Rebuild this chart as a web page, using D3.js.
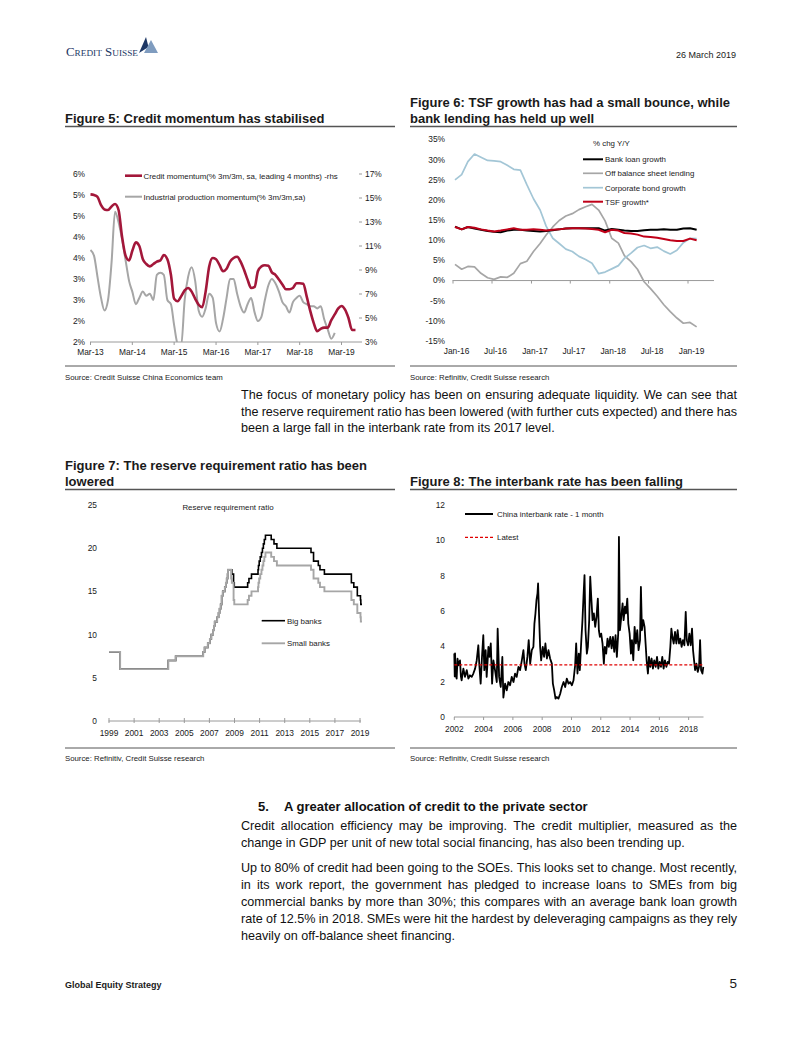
<!DOCTYPE html>
<html><head><meta charset="utf-8">
<script src="https://cdn.jsdelivr.net/npm/d3@7"></script>
<style>body{margin:0;background:#fff} svg{display:block}</style>
</head><body><svg id="page" width="802" height="1037"></svg>
<script>
// ---------------- DATA ----------------
// Figure 5 (monthly from Mar-2013)
const fig5Start = "2013-03-01";
const creditMomentum = [15.3,15.25,15.1,14.4,14.05,14.0,14.3,14.5,14.0,11.8,10.2,9.8,10.6,11.3,11.0,9.9,9.5,9.3,9.5,9.7,9.8,10.25,9.9,8.6,6.6,6.4,6.8,7.3,7.5,7.2,6.6,6.1,5.9,7.2,9.3,10.0,9.9,9.4,8.9,9.1,9.7,10.0,10.1,9.7,9.0,8.2,7.5,7.6,8.9,9.3,9.4,9.35,8.8,8.6,8.2,7.8,7.4,7.4,7.5,7.9,7.9,7.85,6.8,5.6,4.6,3.9,4.1,4.2,4.2,4.8,5.3,5.8,6.0,5.7,5.0,4.0,4.0];
const ipMomentum = [4.19,4.05,3.55,3.05,2.75,3.0,3.9,5.1,4.85,4.45,3.95,3.45,3.2,2.9,3.05,3.2,3.1,3.15,3.0,3.6,3.65,3.6,3.0,2.9,2.4,1.95,1.9,3.0,3.55,3.78,3.45,2.75,2.6,2.8,3.15,3.05,2.45,2.25,2.55,3.05,3.5,3.5,3.15,2.85,2.7,2.9,3.05,2.7,2.5,2.6,3.0,3.35,3.5,3.4,3.2,2.95,2.85,2.7,2.95,3.05,3.1,2.95,2.9,2.85,2.85,2.8,2.85,2.54,2.3,2.08,2.22];
const fig5XLabels = ["Mar-13","Mar-14","Mar-15","Mar-16","Mar-17","Mar-18","Mar-19"];
const fig5LeftTicks = [6,5.5,5,4.5,4,3.5,3,2.5,2];
const fig5LeftLabels = ["6%","5%","5%","4%","4%","3%","3%","2%","2%"];
const fig5RightTicks = [17,15,13,11,9,7,5,3];

// Figure 6 (monthly from Jan-2016, % chg Y/Y)
const fig6Start = "2016-01-01";
const bankLoanGrowth = [13.4,12.7,13.3,12.9,12.6,12.3,12.1,12.0,12.4,12.6,12.6,12.4,12.3,12.2,12.3,12.5,12.7,12.9,13.0,13.0,13.0,13.0,13.0,12.4,12.8,12.6,12.4,12.3,12.3,12.5,12.6,12.6,12.7,12.6,12.6,12.9,13.0,12.6];
const offBalanceLending = [4.0,2.8,3.5,3.4,1.8,0.7,0.3,0.9,0.8,1.8,4.2,4.8,7.2,9.2,11.3,13.3,14.9,16.0,16.6,17.6,18.3,18.9,17.5,14.8,10.5,9.3,6.2,4.7,2.8,-0.3,-2.0,-3.9,-6.0,-7.7,-9.3,-10.6,-10.4,-11.5];
const corpBondGrowth = [25.0,26.3,29.5,31.4,30.6,29.8,29.7,29.5,28.6,27.6,27.4,23.8,20.3,17.5,13.5,10.5,9.2,7.8,7.2,6.0,5.2,4.3,1.7,2.1,2.9,3.7,5.5,6.8,8.2,8.7,8.0,8.3,7.3,6.6,7.5,9.4,10.5,10.4];
const tsfGrowth = [13.3,12.7,13.3,13.1,12.7,12.4,12.2,12.4,12.7,13.0,12.6,12.6,12.7,12.6,12.4,12.6,12.7,12.9,13.0,13.0,12.9,12.8,12.6,12.0,12.6,12.4,11.8,11.7,11.4,10.9,10.8,10.6,10.3,10.0,9.8,9.8,10.4,10.0];
const fig6XLabels = ["Jan-16","Jul-16","Jan-17","Jul-17","Jan-18","Jul-18","Jan-19"];
const fig6YTicks = [35,30,25,20,15,10,5,0,-5,-10,-15];

// Figure 7 (reserve requirement ratio, step changes)
const rrrBigBanks = [["1999-01-01",8],["1999-11-21",6],["2003-09-21",7],["2004-04-25",7.5],["2006-07-05",8],["2006-08-15",8.5],["2006-11-15",9],["2007-01-15",9.5],["2007-02-25",10],["2007-04-16",10.5],["2007-05-15",11],["2007-06-05",11.5],["2007-08-15",12],["2007-09-25",12.5],["2007-10-25",13],["2007-11-26",13.5],["2007-12-25",14.5],["2008-01-25",15],["2008-03-25",15.5],["2008-04-25",16],["2008-05-20",16.5],["2008-06-15",17],["2008-06-25",17.5],["2008-10-15",17],["2008-12-05",16],["2008-12-25",15.5],["2010-01-18",16],["2010-02-25",16.5],["2010-05-10",17],["2010-11-16",17.5],["2010-11-29",18],["2010-12-20",18.5],["2011-01-20",19],["2011-02-24",19.5],["2011-03-25",20],["2011-04-21",20.5],["2011-05-18",21],["2011-06-20",21.5],["2011-12-05",21],["2012-02-24",20.5],["2012-05-18",20],["2015-02-05",19.5],["2015-04-20",18.5],["2015-09-06",18],["2015-10-24",17.5],["2016-03-01",17],["2018-04-25",16],["2018-07-05",15.5],["2018-10-15",14.5],["2019-01-15",14],["2019-01-25",13.5],["2019-02-28",13.5]];
const rrrSmallBanks = [["1999-01-01",8],["1999-11-21",6],["2003-09-21",7],["2004-04-25",7.5],["2006-07-05",8],["2006-08-15",8.5],["2006-11-15",9],["2007-01-15",9.5],["2007-02-25",10],["2007-04-16",10.5],["2007-05-15",11],["2007-06-05",11.5],["2007-08-15",12],["2007-09-25",12.5],["2007-10-25",13],["2007-11-26",13.5],["2007-12-25",14.5],["2008-01-25",15],["2008-03-25",15.5],["2008-04-25",16],["2008-05-20",16.5],["2008-06-15",17],["2008-06-25",17.5],["2008-09-25",16.5],["2008-10-15",16],["2008-12-05",14],["2008-12-25",13.5],["2010-01-18",14],["2010-02-25",14.5],["2010-05-10",15],["2010-11-16",15.5],["2010-11-29",16],["2010-12-20",16.5],["2011-01-20",17],["2011-02-24",17.5],["2011-03-25",18],["2011-04-21",18.5],["2011-05-18",19],["2011-06-20",19.5],["2011-12-05",19],["2012-02-24",18.5],["2012-05-18",18],["2015-02-05",17.5],["2015-04-20",16.5],["2015-09-06",16],["2015-10-24",15.5],["2016-03-01",15],["2018-04-25",14],["2018-07-05",13.5],["2018-10-15",12.5],["2019-01-15",12],["2019-01-25",11.5],["2019-02-28",11.5]];
const fig7XLabels = [1999,2001,2003,2005,2007,2009,2011,2013,2015,2017,2019];
const fig7YTicks = [0,5,10,15,20,25];

// Figure 8 (China interbank rate - 1 month, [decimal year, %])
const interbankRate = [[2002.00,3.6],[2002.03,2.3],[2002.05,3.6],[2002.10,2.4],[2002.16,2.17],[2002.22,3.3],[2002.28,2.93],[2002.39,3.2],[2002.45,2.3],[2002.50,2.08],[2002.62,2.74],[2002.73,2.27],[2002.85,2.65],[2002.96,2.17],[2003.07,2.36],[2003.19,2.27],[2003.30,2.46],[2003.42,2.74],[2003.53,3.2],[2003.64,4.06],[2003.71,2.93],[2003.80,1.89],[2003.89,3.4],[2003.98,4.63],[2004.05,2.65],[2004.14,3.78],[2004.21,2.27],[2004.33,3.97],[2004.40,3.4],[2004.49,4.16],[2004.58,1.89],[2004.67,3.2],[2004.78,2.65],[2004.90,1.98],[2004.96,5.0],[2005.06,2.27],[2005.17,1.7],[2005.28,3.4],[2005.35,1.1],[2005.47,1.89],[2005.58,1.51],[2005.69,1.98],[2005.81,1.8],[2005.92,2.27],[2006.04,1.98],[2006.15,2.46],[2006.26,2.27],[2006.38,2.84],[2006.49,2.65],[2006.61,3.2],[2006.72,3.78],[2006.79,3.02],[2006.88,2.65],[2006.99,3.4],[2007.08,4.35],[2007.18,3.02],[2007.29,3.78],[2007.40,3.97],[2007.47,5.29],[2007.54,5.86],[2007.61,6.61],[2007.68,6.99],[2007.72,7.56],[2007.79,5.67],[2007.86,3.97],[2007.93,3.2],[2008.04,3.97],[2008.13,3.4],[2008.22,4.16],[2008.32,3.31],[2008.43,3.78],[2008.54,3.31],[2008.66,3.02],[2008.73,1.89],[2008.82,1.51],[2008.91,1.04],[2009.00,1.13],[2009.11,1.04],[2009.23,1.32],[2009.34,1.7],[2009.46,1.98],[2009.57,1.7],[2009.68,2.17],[2009.80,1.89],[2009.91,1.98],[2010.03,1.8],[2010.14,2.08],[2010.25,2.93],[2010.32,4.16],[2010.41,2.46],[2010.50,3.59],[2010.57,2.65],[2010.66,4.16],[2010.75,5.48],[2010.82,6.8],[2010.89,8.03],[2010.96,4.91],[2011.05,3.59],[2011.12,3.97],[2011.21,5.48],[2011.28,7.94],[2011.35,6.8],[2011.44,5.48],[2011.53,5.86],[2011.62,5.1],[2011.71,5.67],[2011.80,6.7],[2011.87,4.91],[2011.94,4.54],[2012.03,4.72],[2012.12,4.16],[2012.21,3.02],[2012.28,3.97],[2012.37,3.59],[2012.46,4.44],[2012.55,3.97],[2012.65,4.54],[2012.74,3.88],[2012.83,4.54],[2012.92,3.69],[2013.01,4.63],[2013.10,3.4],[2013.19,4.72],[2013.24,10.2],[2013.31,4.91],[2013.40,5.67],[2013.49,6.43],[2013.56,5.48],[2013.65,6.24],[2013.72,5.86],[2013.81,6.7],[2013.88,5.29],[2013.97,4.72],[2014.06,3.59],[2014.13,4.35],[2014.22,3.21],[2014.31,5.1],[2014.40,4.16],[2014.49,4.91],[2014.58,3.78],[2014.68,4.35],[2014.74,7.37],[2014.81,4.91],[2014.90,5.48],[2014.99,5.1],[2015.06,4.16],[2015.13,3.21],[2015.22,2.46],[2015.29,3.4],[2015.38,2.84],[2015.47,3.31],[2015.56,2.74],[2015.65,3.21],[2015.75,2.84],[2015.84,3.4],[2015.93,2.74],[2016.02,3.12],[2016.11,2.84],[2016.20,3.4],[2016.29,2.74],[2016.38,3.21],[2016.48,2.84],[2016.57,3.12],[2016.66,3.02],[2016.75,3.97],[2016.82,5.0],[2016.89,4.54],[2016.98,4.16],[2017.07,4.82],[2017.16,4.16],[2017.25,4.91],[2017.34,4.16],[2017.43,4.44],[2017.52,3.97],[2017.61,4.35],[2017.71,4.06],[2017.80,5.95],[2017.87,4.35],[2017.96,4.06],[2018.05,4.72],[2018.14,4.06],[2018.23,5.0],[2018.30,3.78],[2018.37,3.21],[2018.44,2.65],[2018.53,3.02],[2018.62,2.55],[2018.71,2.84],[2018.78,4.35],[2018.85,2.65],[2018.94,2.46],[2019.00,2.84]];
const latestRate = 2.95;
const fig8XLabels = [2002,2004,2006,2008,2010,2012,2014,2016,2018];
const fig8YTicks = [0,2,4,6,8,10,12];

// ---------------- DRAWING ----------------
const CH = "'Liberation Sans Narrow','Arial Narrow','Liberation Sans',Arial,sans-serif";
const BODY = "'Liberation Sans',Arial,sans-serif";
const LS = 8.4; // chart label size
const svg = d3.select("#page");
svg.append("rect").attr("width",802).attr("height",1037).attr("fill","#fff");

function txt(x,y,s,o={}){
  return svg.append("text").attr("x",x).attr("y",y).text(s)
    .attr("font-family",o.family||CH).attr("font-size",o.size||LS)
    .attr("fill",o.fill||"#1a1a1a").attr("font-weight",o.bold?"bold":null)
    .attr("text-anchor",o.anchor||"start");
}
function line(x1,y1,x2,y2,c,w,dash){
  return svg.append("line").attr("x1",x1).attr("y1",y1).attr("x2",x2).attr("y2",y2)
    .attr("stroke",c).attr("stroke-width",w).attr("stroke-dasharray",dash||null);
}
function justify(s,x0,x1,y,size,last){
  const g = svg.append("g").attr("font-family",BODY).attr("font-size",size).attr("fill","#111");
  if(last){ g.append("text").attr("x",x0).attr("y",y).text(s); return; }
  const words = s.split(" ");
  let ws = words.map(w=>{const t=g.append("text").text(w);const l=t.node().getComputedTextLength();t.remove();return l;});
  let total = d3.sum(ws), minGap = 2.6;
  if(total + minGap*(words.length-1) > x1-x0){
    const k = (x1-x0-minGap*(words.length-1))/total;
    g.attr("font-size",size*k); ws = ws.map(w=>w*k); total*=k;
  }
  const gap = (x1-x0-total)/(words.length-1);
  let x=x0;
  words.forEach((w,i)=>{g.append("text").attr("x",x).attr("y",y).text(w); x+=ws[i]+gap;});
}

// Header
txt(66,56,"Credit Suisse",{family:"'Liberation Serif',serif",size:12.5,fill:"#1d3765"})
  .attr("font-variant","small-caps").attr("textLength",72).attr("lengthAdjust","spacingAndGlyphs");
svg.append("path").attr("d","M139,53 L146,37 L148.5,47 Z").attr("fill","#1d3765");
svg.append("path").attr("d","M144,53 L151,40 L158,53 Z").attr("fill","#7f9cbf");
txt(736,58,"26 March 2019",{size:9,anchor:"end"});

// Titles
txt(65,122.5,"Figure 5: Credit momentum has stabilised",{bold:true,size:13,family:BODY});
txt(410,106.5,"Figure 6: TSF growth has had a small bounce, while",{bold:true,size:13,family:BODY});
txt(410,122.5,"bank lending has held up well",{bold:true,size:13,family:BODY});
line(65,126.5,395,126.5,"#555",1.3); line(410,126.5,737,126.5,"#555",1.3);
line(65,366,395,366,"#555",1); line(410,366,737,366,"#555",1);
txt(65,380,"Source: Credit Suisse China Economics team",{size:7.8});
txt(410,380,"Source: Refinitiv, Credit Suisse research",{size:7.8});

txt(65,469.5,"Figure 7: The reserve requirement ratio has been",{bold:true,size:13,family:BODY});
txt(65,485.5,"lowered",{bold:true,size:13,family:BODY});
txt(410,485.5,"Figure 8: The interbank rate has been falling",{bold:true,size:13,family:BODY});
line(65,489.5,395,489.5,"#555",1.3); line(410,489.5,737,489.5,"#555",1.3);
line(65,748,395,748,"#555",1); line(410,748,737,748,"#555",1);
txt(65,761,"Source: Refinitiv, Credit Suisse research",{size:7.8});
txt(410,761,"Source: Refinitiv, Credit Suisse research",{size:7.8});

// Body text
const P=12.6;
justify("The focus of monetary policy has been on ensuring adequate liquidity. We can see that",241,737,399,P);
justify("the reserve requirement ratio has been lowered (with further cuts expected) and there has",241,737,415.5,P);
justify("been a large fall in the interbank rate from its 2017 level.",241,737,432,P,true);
txt(258,810.5,"5.",{bold:true,size:13,family:BODY,fill:"#111"});
txt(284,810.5,"A greater allocation of credit to the private sector",{bold:true,size:13,family:BODY,fill:"#111"});
justify("Credit allocation efficiency may be improving. The credit multiplier, measured as the",241,737,830,P);
justify("change in GDP per unit of new total social financing, has also been trending up.",241,737,847,P,true);
justify("Up to 80% of credit had been going to the SOEs. This looks set to change. Most recently,",241,737,872,P);
justify("in its work report, the government has pledged to increase loans to SMEs from big",241,737,889,P);
justify("commercial banks by more than 30%; this compares with an average bank loan growth",241,737,906,P);
justify("rate of 12.5% in 2018. SMEs were hit the hardest by deleveraging campaigns as they rely",241,737,923,P);
justify("heavily on off-balance sheet financing.",241,737,940,P,true);
txt(65,988,"Global Equity Strategy",{bold:true,size:9});
txt(737,988,"5",{size:13.5,anchor:"end",family:BODY});

// ---------- Figure 5 ----------
{
  const x = d3.scaleTime().domain([new Date(2013,2,1),new Date(2019,2,1)]).range([90.5,341.5]);
  const yL = d3.scaleLinear().domain([2,6]).range([342,174]);
  const yR = d3.scaleLinear().domain([3,17]).range([342,174]);
  const month = i => d3.timeMonth.offset(new Date(fig5Start+"T00:00"), i);
  svg.append("clipPath").attr("id","c5").append("rect").attr("x",88).attr("y",160).attr("width",275).attr("height",182);
  line(90,342,359,342,"#9a9a9a",1);
  fig5XLabels.forEach((l,i)=>{ const xx=x(new Date(2013+i,2,1)); line(xx,342,xx,345,"#9a9a9a",1); txt(xx,354.5,l,{anchor:"middle"}); });
  fig5LeftTicks.forEach((v,i)=>txt(85,yL(v)+2.9,fig5LeftLabels[i],{anchor:"end"}));
  fig5RightTicks.forEach(v=>{ line(359,yR(v),362,yR(v),"#9a9a9a",1); txt(365,yR(v)+2.9,v+"%"); });
  svg.append("path").datum(ipMomentum).attr("clip-path","url(#c5)")
    .attr("d",d3.line().x((d,i)=>x(month(i))).y(d=>yL(d)).curve(d3.curveMonotoneX))
    .attr("fill","none").attr("stroke","#a6a6a6").attr("stroke-width",2);
  svg.append("path").datum(creditMomentum)
    .attr("d",d3.line().x((d,i)=>x(month(i))).y(d=>yR(d)).curve(d3.curveMonotoneX))
    .attr("fill","none").attr("stroke","#a3173a").attr("stroke-width",2.6);
  line(125,175.7,142,175.7,"#a3173a",2.6);
  txt(143.5,178.6,"Credit momentum(% 3m/3m, sa, leading 4 months) -rhs",{size:7.9});
  line(125,196.7,142,196.7,"#a6a6a6",2);
  txt(143.5,199.6,"Industrial production momentum(% 3m/3m,sa)",{size:7.9});
}

// ---------- Figure 6 ----------
{
  const x = d3.scaleTime().domain([new Date(2016,0,1),new Date(2019,0,1)]).range([455,690]);
  const y = d3.scaleLinear().domain([-15,35]).range([341,139.5]);
  const month = i => d3.timeMonth.offset(new Date(fig6Start+"T00:00"), i);
  line(452.5,y(0),714,y(0),"#9a9a9a",1);
  fig6XLabels.forEach((l,i)=>{ const d=d3.timeMonth.offset(new Date(2016,0,1),6*i); const xx=x(d);
    line(xx-2,y(0),xx-2,y(0)+3,"#9a9a9a",1); txt(xx+1.5,353.5,l,{anchor:"middle"}); });
  fig6YTicks.forEach(v=>txt(445,y(v)+2.9,v+"%",{anchor:"end"}));
  const ln = d3.line().x((d,i)=>x(month(i))).y(d=>y(d));
  const series = [[offBalanceLending,"#a6a6a6",1.7],[corpBondGrowth,"#a3c6d6",1.7],[bankLoanGrowth,"#000",2],[tsfGrowth,"#c00018",2]];
  series.forEach(s=>svg.append("path").datum(s[0]).attr("d",ln).attr("fill","none").attr("stroke",s[1]).attr("stroke-width",s[2]).attr("stroke-linejoin","round"));
  txt(593,146,"% chg Y/Y",{size:7.9});
  const leg = [["Bank loan growth","#000",2],["Off balance sheet lending","#a6a6a6",1.7],["Corporate bond growth","#a3c6d6",1.7],["TSF growth*","#c00018",2]];
  const ly=[159.3,173.3,187.7,201.7];
  leg.forEach((l,i)=>{ line(583,ly[i],603,ly[i],l[1],l[2]); txt(605,ly[i]+2.8,l[0],{size:7.9}); });
}

// ---------- Figure 7 ----------
{
  const x = d3.scaleTime().domain([new Date(1999,0,1),new Date(2019,0,1)]).range([109,360]);
  const y = d3.scaleLinear().domain([0,25]).range([721,505]);
  line(108.5,721,361,721,"#9a9a9a",1);
  fig7XLabels.forEach(yr=>{ const xx=x(new Date(yr,0,1)); line(xx,718,xx,723,"#9a9a9a",1); txt(xx,736,yr,{anchor:"middle"}); });
  fig7YTicks.forEach(v=>txt(97,y(v)+2.9,v,{anchor:"end"}));
  const ln = d3.line().x(d=>x(new Date(d[0]+"T00:00"))).y(d=>y(d[1])).curve(d3.curveStepAfter);
  svg.append("path").datum(rrrBigBanks).attr("d",ln).attr("fill","none").attr("stroke","#000").attr("stroke-width",1.6);
  svg.append("path").datum(rrrSmallBanks).attr("d",ln).attr("fill","none").attr("stroke","#a6a6a6").attr("stroke-width",1.9);
  txt(228,509.5,"Reserve requirement ratio",{size:7.9,anchor:"middle"});
  line(261.7,620.7,285,620.7,"#000",1.6); txt(287,623.5,"Big banks",{size:7.9});
  line(261.7,643.3,285,643.3,"#a6a6a6",1.9); txt(287,646.1,"Small banks",{size:7.9});
}

// ---------- Figure 8 ----------
{
  const x = d3.scaleLinear().domain([2002,2019]).range([454.3,703.3]);
  const y = d3.scaleLinear().domain([0,12]).range([717,505]);
  line(454,717,703.5,717,"#9a9a9a",1);
  fig8XLabels.forEach(yr=>{ const xx=x(yr); line(xx,717,xx,720,"#9a9a9a",1); txt(xx,731.5,yr,{anchor:"middle"}); });
  fig8YTicks.forEach(v=>txt(445,y(v)+2.9,v,{anchor:"end"}));
  svg.append("path").datum(interbankRate).attr("d",d3.line().x(d=>x(d[0])).y(d=>y(d[1])))
    .attr("fill","none").attr("stroke","#000").attr("stroke-width",1.8).attr("stroke-linejoin","round");
  line(x(2002),y(latestRate),x(2019),y(latestRate),"#e00000",1.3,"3,2");
  line(465,514,493,514,"#000",2); txt(497,517,"China interbank rate - 1 month",{size:7.9});
  line(465,537.3,493,537.3,"#e00000",1.3,"3,2"); txt(497,540,"Latest",{size:7.9});
}
</script></body></html>
